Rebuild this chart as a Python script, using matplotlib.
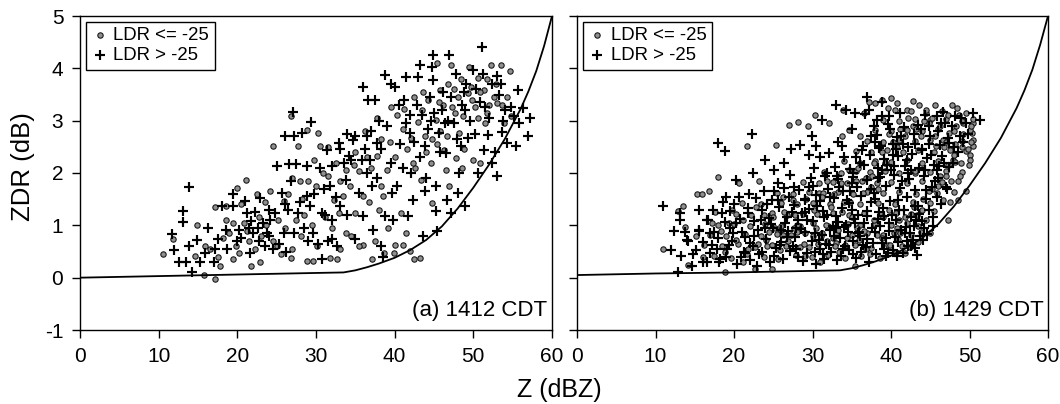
import matplotlib
matplotlib.use("Agg")
import matplotlib.pyplot as plt

plt.rcParams['font.family'] = ['Liberation Sans', 'DejaVu Sans']
plt.rcParams['axes.unicode_minus'] = False

# ---------------- data ----------------
x_ticks = [0, 10, 20, 30, 40, 50, 60]
y_ticks = [-1, 0, 1, 2, 3, 4, 5]
legend_labels = ["LDR <= -25", "LDR > -25"]
panel_titles = ["(a) 1412 CDT", "(b) 1429 CDT"]

curve_a_z = [0, 10, 20, 30, 33.5, 35, 36.5, 38, 40, 42, 44, 46, 48, 50, 52, 54, 56, 57, 58, 59, 60]
curve_a_zdr = [0.0, 0.03, 0.06, 0.09, 0.10, 0.14, 0.20, 0.27, 0.38, 0.53, 0.72, 0.98, 1.32, 1.72, 2.16, 2.65, 3.22, 3.56, 3.95, 4.43, 5.0]
curve_b_z = [0, 10, 20, 30, 33.5, 35, 36.5, 38, 40, 42, 44, 46, 48, 50, 52, 54, 56, 57, 58, 59, 60]
curve_b_zdr = [0.05, 0.08, 0.10, 0.13, 0.14, 0.18, 0.24, 0.31, 0.42, 0.57, 0.76, 1.02, 1.36, 1.76, 2.19, 2.67, 3.24, 3.58, 3.97, 4.45, 5.0]

a_plus = [(13.8,1.73),(13.1,1.28),(13.1,1.07),(11.7,0.84),(12.0,0.53),(12.6,0.29),(13.5,0.29),(13.8,0.60),(14.2,0.10),(14.9,0.72),(15.2,0.29),(15.9,0.48),(16.3,0.95),(17.0,0.29),(17.6,0.73),(18.1,1.37),(19.4,1.59),(19.4,1.37),(18.5,0.92),(18.7,0.54),(20.2,0.92),(21.0,1.46),(21.2,1.24),(21.8,1.08),(22.0,0.86),(21.6,0.48),(22.9,1.52),(23.3,1.05),(23.5,0.60),(24.2,1.11),(24.8,1.24),(25.1,2.14),(25.7,1.62),(25.9,0.86),(26.1,2.70),(26.6,2.17),(26.8,1.84),(27.1,3.17),(27.2,2.70),(27.5,2.17),(27.7,1.24),(27.2,0.86),(28.2,2.76),(28.8,1.56),(28.9,2.13),(29.4,2.98),(29.2,1.37),(29.6,0.86),(30.7,0.35),(30.7,1.24),(31.4,2.44),(31.8,1.75),(32.0,2.13),(32.0,0.73),(32.7,0.60),(32.9,2.57),(33.1,1.37),(33.8,1.87),(34.2,2.32),(34.7,2.63),(34.9,0.73),(35.5,1.62),(36.0,3.65),(36.0,1.17),(36.6,3.40),(36.9,2.25),(37.1,1.75),(37.3,0.92),(37.5,3.40),(37.7,2.57),(38.2,0.60),(38.8,1.17),(38.8,3.87),(39.5,3.71),(39.5,2.19),(39.7,1.62),(40.1,3.65),(40.3,1.75),(41.2,3.40),(41.4,3.84),(41.7,1.17),(41.9,2.76),(42.1,2.00),(42.3,1.49),(43.0,3.84),(43.2,4.06),(43.6,0.79),(43.8,1.65),(43.9,2.51),(44.5,3.46),(44.7,4.03),(44.9,4.25),(44.9,3.78),(45.2,1.75),(45.2,1.27),(45.4,0.89),(45.6,2.76),(46.0,3.21),(46.5,2.38),(46.7,1.49),(46.9,4.25),(47.1,1.24),(47.8,3.90),(48.0,1.62),(48.2,2.00),(48.4,2.51),(48.9,1.37),(49.1,3.71),(49.3,2.67),(50.0,3.97),(50.6,2.00),(51.1,4.41),(51.3,2.44),(51.5,3.27),(51.9,2.73),(52.4,2.19),(52.8,2.41),(53.0,1.94),(53.5,3.71),(53.7,2.79),(54.3,2.57),(54.8,3.27),(55.2,3.08),(55.4,2.51),(55.7,3.59),(55.8,2.95),(56.3,3.24),(57.0,2.70),(57.2,3.05),
(20.5,0.75),(21.5,0.95),(22.3,1.25),(22.8,0.70),(23.8,0.85),(24.5,0.55),(25.3,0.65),(26.2,0.50),(26.5,1.30),(28.0,1.45),(28.5,0.95),(29.0,0.70),(30.2,0.65),(31.0,1.70),(31.5,0.70),(32.5,1.55),(33.5,2.20),(34.0,1.20),(35.0,2.70),(35.8,2.25),(36.5,2.00),(37.8,1.90),(38.5,0.40),(39.0,2.90),(39.8,1.10),(40.5,3.30),(41.0,2.10),(42.5,2.60),(43.5,3.10),(44.0,1.90),(46.2,3.55),(47.5,2.95),(48.6,3.30),(50.3,3.60),(52.0,3.05),(53.2,3.50),(54.0,3.20),
(41.5,2.95),(42.8,3.30),(44.2,2.85),(45.0,3.15),(46.4,2.95),(47.2,3.45),(48.8,3.55),(49.6,3.00),(50.8,3.35),(52.4,3.70),(53.8,3.00),(38.3,2.45),(37.0,2.80),(36.2,2.45),(34.5,2.25),(33.0,2.45),(30.5,2.10),(31.2,1.20),(24.0,0.80),(22.6,0.95),(19.9,0.70),(17.2,0.55),
(40.7,2.55),(42.0,3.10),(43.2,2.30),(44.6,3.00),(45.8,2.40),(46.8,3.00),(47.9,2.65),(49.0,3.20),(50.2,2.75),(51.2,3.90),(53.0,3.85),(38.0,3.00),(36.5,2.70),(34.0,2.75),(32.0,1.10),(29.8,1.60),(26.0,1.40),(24.0,1.30)]

a_circ = [(10.6,0.46),(11.8,0.74),(14.9,1.00),(14.6,0.41),(15.8,0.06),(17.1,-0.02),(17.2,1.35),(15.9,0.60),(17.8,0.22),(18.5,1.37),(18.5,1.11),(20.0,1.71),(21.1,1.87),(20.2,0.48),(19.4,0.35),(21.8,0.22),(22.9,0.29),(24.2,1.65),(24.5,2.51),(25.1,0.60),(25.9,1.46),(26.8,0.38),(26.8,3.08),(27.7,2.51),(28.1,0.79),(28.8,2.83),(28.9,0.32),(29.6,0.32),(30.3,2.76),(30.1,0.60),(30.5,2.51),(31.8,0.38),(32.7,0.35),(30.9,2.00),(32.3,1.49),(32.9,1.24),(33.8,0.86),(35.0,1.24),(35.5,2.03),(36.0,0.63),(37.1,0.35),(37.7,2.32),(38.2,1.75),(38.6,0.48),(39.5,3.27),(39.9,0.48),(40.8,1.24),(41.0,0.63),(41.4,0.86),(41.9,0.51),(42.5,0.35),(43.2,0.38),(43.4,1.87),(43.8,2.70),(44.3,3.40),(44.7,1.43),(45.2,3.02),(45.4,4.10),(45.8,3.59),(46.3,2.44),(46.5,2.06),(46.9,1.75),(47.1,4.06),(47.3,3.27),(47.8,2.29),(48.2,2.76),(48.7,3.08),(49.3,3.52),(49.5,4.03),(50.0,2.25),(50.2,3.27),(50.6,3.81),(51.3,3.59),(51.7,3.14),(52.2,4.06),(52.6,3.46),(53.0,3.33),(53.5,4.06),(53.9,2.95),(54.6,3.94),(54.3,3.46),(54.8,3.08),
(33.4,1.57),(34.3,1.75),(36.0,1.57),(37.7,3.05),(38.5,1.57),(39.4,2.60),(40.3,3.10),(41.2,3.22),(42.1,2.67),(42.6,2.10),(43.0,2.98),(44.0,2.40),(45.8,2.80),(46.8,3.70),(48.0,3.45),(48.5,2.10),(50.8,2.20),(51.5,2.95),(19.0,0.85),(19.8,0.60),(20.8,1.05),(21.5,0.70),(22.2,0.55),(23.0,0.80),(23.7,1.00),(24.5,0.70),(25.5,0.45),(26.0,0.95),(27.0,0.55),(27.5,1.10),(28.5,1.20),(29.5,1.00),(30.0,1.75),(31.2,1.15),(32.0,0.95),(33.0,0.55),(34.5,0.80),(35.5,0.60),(36.8,1.45),(37.5,0.70),(38.0,1.30),(39.2,0.95),(40.0,0.62),(16.5,0.55),(17.5,0.40),(18.2,0.75),(20.5,1.40),(22.5,1.60),(23.5,1.45),(26.5,1.60),(28.0,1.85),
(41.6,2.45),(42.4,3.45),(43.6,3.55),(44.6,2.20),(45.4,2.55),(46.2,3.30),(47.6,3.60),(48.4,3.80),(49.8,3.40),(50.6,3.05),(51.8,3.80),(52.9,3.70),(53.6,3.30),(37.0,2.10),(36.2,2.80),(35.0,2.40),(33.8,2.05),(32.5,2.20),(31.5,2.50),(29.8,2.25),(27.0,1.90),(25.2,1.10),(22.8,1.15),(21.2,0.90),(19.4,1.05),
(40.0,2.30),(41.0,2.85),(42.3,2.20),(43.5,3.20),(44.8,2.65),(45.6,3.35),(46.6,2.70),(47.7,3.15),(48.8,2.45),(49.7,3.65),(50.9,3.55),(52.0,3.30),(39.0,2.05),(38.2,2.65),(36.5,2.30),(34.8,2.15),(33.0,1.85),(31.5,1.95),(29.0,1.85),(28.2,1.50)]

b_plus = [(11.0,1.36),(12.0,0.53),(12.3,0.89),(12.9,0.11),(13.1,1.11),(13.1,1.24),(13.3,0.41),(14.2,0.70),(14.6,0.22),(15.5,0.92),(15.5,1.30),(16.1,0.29),(16.6,1.11),(17.2,0.63),(17.9,2.58),(18.1,0.29),(18.5,1.24),(18.9,2.42),(19.0,1.55),(19.9,0.86),(20.2,1.87),(20.7,1.55),(21.4,0.48),(21.8,1.24),(22.3,2.74),(22.4,2.00),(22.9,0.22),(23.4,1.11),(23.8,1.65),(24.0,2.25),(25.1,1.65),(25.1,2.06),(25.6,1.49),(26.0,0.92),(26.4,2.19),(27.1,1.97),(27.7,1.74),(27.9,0.54),(28.4,2.54),(28.6,1.24),(29.1,1.49),(29.5,1.74),(29.9,2.70),(30.2,2.09),(30.4,2.51),(30.6,1.36),(31.2,3.01),(31.5,0.35),(31.9,2.00),(32.1,2.38),(32.6,0.98),(33.0,3.30),(33.4,1.74),(33.7,2.51),(34.1,0.60),(34.3,3.20),(34.7,1.43),(35.2,2.00),(35.4,3.14),(35.8,0.86),(36.3,2.44),(36.9,3.46),(37.2,3.20),(37.4,2.70),(37.8,1.62),(38.2,3.01),(38.7,2.51),(38.9,3.36),(39.1,1.17),(39.6,0.48),(39.8,3.08),(40.4,2.13),(40.9,1.49),(41.3,2.70),(41.8,0.86),(42.2,2.00),(42.6,0.60),(43.1,1.36),(43.3,0.44),(43.7,0.79),(43.9,2.44),(44.4,1.68),(44.8,2.89),(45.3,0.98),(45.9,3.08),(46.1,2.13),(46.6,3.17),(47.0,1.74),(47.4,2.57),(48.1,3.08),(48.8,2.70),(50.5,3.14),(51.4,3.01),(49.6,2.95),
(16.5,0.30),(18.2,0.35),(20.4,0.27),(22.1,0.33),(24.6,0.29),(26.3,0.36),(28.8,0.31),(30.5,0.26),(33.1,0.34),(35.6,0.38),(37.2,0.30),(39.4,0.42),(41.5,0.47),(43.0,0.57),
(15.2,0.52),(17.0,0.48),(19.1,0.55),(21.3,0.50),(23.2,0.46),(25.4,0.57),(27.1,0.51),(29.3,0.47),(31.0,0.55),(32.4,0.49),(34.6,0.53),(36.8,0.58),(38.1,0.45),(40.2,0.52),(42.2,0.60),(44.1,0.72),
(14.0,0.72),(16.0,0.68),(18.0,0.75),(19.8,0.70),(22.0,0.66),(24.1,0.74),(26.0,0.69),(27.8,0.77),(29.9,0.71),(31.7,0.65),(33.5,0.76),(35.1,0.70),(36.9,0.73),(38.8,0.67),(40.5,0.78),(42.8,0.72),(44.6,0.84),
(15.6,0.90),(17.5,0.88),(19.5,0.94),(21.0,0.87),(23.0,0.92),(25.0,0.95),(26.9,0.89),(28.5,0.93),(30.3,0.86),(32.2,0.91),(34.0,0.96),(35.9,0.88),(37.6,0.94),(39.8,0.90),(41.9,0.97),
(16.7,1.10),(18.8,1.06),(20.8,1.12),(22.5,1.08),(24.4,1.14),(26.5,1.05),(28.1,1.11),(30.0,1.09),(31.5,1.15),(33.2,1.07),(35.3,1.12),(36.5,1.04),(38.4,1.13),(40.6,1.10),(42.5,1.16),(44.0,1.08),
(17.3,1.30),(19.5,1.27),(21.8,1.33),(23.6,1.29),(25.7,1.35),(27.4,1.26),(29.6,1.31),(31.3,1.28),(33.8,1.34),(35.0,1.30),(37.0,1.27),(39.0,1.33),(41.0,1.29),(43.4,1.36),
(22.8,1.52),(24.9,1.48),(27.0,1.55),(29.0,1.50),(30.9,1.46),(32.7,1.53),(34.4,1.49),(36.2,1.56),(38.0,1.51),(39.9,1.47),(42.0,1.54),(44.5,1.50),
(26.4,1.72),(28.3,1.68),(30.1,1.75),(32.0,1.70),(33.9,1.66),(35.7,1.73),(37.5,1.69),(39.3,1.76),(41.2,1.71),(43.0,1.67),(45.2,1.74),(47.1,1.70),
(29.8,1.90),(31.6,1.95),(33.3,1.88),(35.1,1.93),(36.9,1.86),(38.6,1.92),(40.4,1.97),(42.3,1.89),(44.2,1.94),(46.0,1.91),
(32.9,2.12),(34.8,2.08),(36.6,2.15),(38.3,2.10),(40.0,2.06),(41.8,2.13),(43.6,2.09),(45.5,2.16),(47.4,2.11),
(35.5,2.30),(37.3,2.34),(39.1,2.27),(40.9,2.32),(42.7,2.36),(44.6,2.29),(46.5,2.33),
(36.4,2.52),(38.5,2.48),(40.3,2.55),(42.2,2.50),(44.0,2.46),(46.2,2.53),(48.0,2.49),
(38.2,2.72),(40.8,2.68),(42.9,2.75),(45.0,2.70),(47.2,2.66),
(37.8,2.90),(39.6,2.94),(41.6,2.87),(43.5,2.92),(46.4,2.96),
(36.7,3.12),(38.9,3.08),(41.1,3.15),(44.3,3.10),
(17.8,0.55),(19.3,0.62),(20.9,0.40),(22.6,0.80),(23.9,0.95),(25.1,0.42),(26.7,0.78),(27.5,0.60),(28.2,0.40),(29.0,0.88),(30.8,0.72),(31.4,0.45),(32.8,0.80),(33.9,0.55),(34.3,1.00),(35.2,0.45),(35.8,1.20),(36.4,0.62),(37.9,0.88),(38.5,1.25),(39.1,0.55),(39.7,1.05),(40.9,0.68),(41.6,1.30),(42.4,0.85),(43.2,1.10),(44.9,1.30),(45.8,1.55),(27.6,1.38),(29.3,1.10),(30.5,1.58),(31.9,1.20),(33.0,0.95),(34.8,1.65),(36.0,0.80),(37.4,1.45),(38.3,1.90),(39.5,2.15),(40.6,2.45),(41.4,1.85),(42.0,2.25),(43.1,2.55),(44.3,2.05),(45.1,2.35),(46.0,2.80),(46.8,2.20),(47.8,2.90),(48.5,2.40),(49.2,2.60),(35.0,2.85),(33.2,2.60),(31.0,2.30),(29.5,2.35),(27.2,2.45),(25.6,1.80),(24.2,1.40),(21.9,1.60),(20.0,1.40),(18.6,1.45),(16.9,0.85),(14.8,0.45),(13.8,0.88),
(30.3,0.50),(31.2,0.82),(32.1,0.62),(33.0,1.18),(33.6,0.42),(34.5,0.88),(35.4,1.05),(36.2,0.50),(36.9,1.18),(37.7,0.66),(38.6,0.98),(39.3,0.75),(40.1,1.20),(40.8,0.42),(41.3,0.92),(42.0,0.70),(42.9,0.98),(43.6,1.22),(44.2,0.95),(45.4,1.15),(29.0,1.25),(27.9,0.95),(26.8,1.15),(25.8,0.62),(24.7,1.02),(23.6,0.50),(22.4,0.60),(21.4,0.78),(20.2,1.05),(19.0,0.40),(38.9,2.05),(40.2,2.35),(41.5,2.55),(42.6,2.05),(43.8,2.85),(44.9,2.55),(45.8,2.05),(46.9,2.95),(47.9,2.20),(48.9,3.05),(49.8,2.75),(39.9,2.85),(37.9,2.60),(36.1,2.20),(35.0,1.80),(34.0,2.30),(33.1,1.95),(32.2,1.55),(45.6,1.85),(46.4,1.40)]

b_circ = [(11.0,0.55),(12.9,1.27),(13.5,1.36),(13.7,0.96),(14.2,0.25),(15.3,1.59),(15.9,1.59),(16.8,1.65),(17.9,1.92),(17.6,1.25),(18.8,0.11),(19.4,1.05),(20.6,1.81),(21.2,0.29),(21.6,2.51),(22.7,0.16),(23.2,1.84),(24.2,0.60),(24.9,0.16),(25.4,2.53),(25.8,0.86),(26.2,1.55),(27.0,2.92),(27.5,1.49),(28.2,2.98),(28.4,0.98),(29.1,0.41),(29.4,2.89),(30.3,3.10),(30.8,1.62),(31.2,0.86),(32.1,2.95),(33.0,0.67),(33.7,2.70),(33.9,3.20),(34.7,2.82),(35.4,0.22),(36.1,2.70),(36.5,3.14),(37.4,1.74),(38.0,3.33),(38.9,3.39),(40.0,3.44),(40.8,3.34),(40.9,0.73),(42.0,3.20),(42.8,3.38),(43.1,2.00),(43.5,0.98),(44.4,3.14),(45.0,0.86),(45.7,2.51),(46.6,1.49),(47.2,1.11),(47.9,2.25),(48.5,1.49),(48.9,2.19),(49.6,1.65),(50.1,2.35),(50.3,2.76),(50.5,2.51),(50.4,2.95),(49.2,2.95),(48.3,2.89),(47.4,2.76),(46.6,2.63),
(17.5,0.42),(19.6,0.38),(21.6,0.45),(23.8,0.40),(25.6,0.36),(27.9,0.43),(29.9,0.39),(32.0,0.44),(34.1,0.37),(36.2,0.41),(38.6,0.38),(40.7,0.50),(42.4,0.58),
(16.2,0.62),(18.5,0.60),(20.5,0.64),(22.7,0.58),(24.9,0.63),(26.6,0.61),(28.4,0.59),(30.7,0.64),(32.9,0.60),(35.4,0.62),(37.5,0.57),(39.6,0.63),(41.4,0.60),(43.5,0.68),
(17.0,0.82),(19.0,0.80),(21.4,0.84),(23.5,0.79),(25.5,0.83),(27.3,0.81),(29.1,0.85),(31.1,0.80),(33.0,0.84),(35.0,0.81),(37.0,0.86),(39.0,0.82),(41.2,0.85),(43.8,0.88),
(18.0,1.00),(20.0,1.02),(22.0,0.98),(24.0,1.03),(26.0,0.99),(28.0,1.01),(30.0,1.04),(32.0,0.98),(34.5,1.02),(36.0,1.00),(38.0,1.03),(40.0,1.01),(42.0,1.05),(44.5,1.10),
(20.2,1.22),(22.2,1.20),(24.8,1.23),(26.8,1.19),(28.8,1.22),(30.6,1.21),(32.6,1.24),(34.6,1.20),(36.6,1.23),(38.6,1.21),(40.6,1.24),(42.6,1.22),(45.5,1.28),
(21.0,1.42),(23.5,1.40),(26.0,1.43),(28.0,1.40),(30.0,1.42),(32.2,1.41),(34.0,1.44),(36.0,1.40),(38.4,1.43),(40.5,1.41),(42.8,1.44),(45.0,1.42),(47.5,1.45),
(25.5,1.62),(27.5,1.60),(29.5,1.63),(31.3,1.61),(33.2,1.64),(35.2,1.60),(37.0,1.63),(39.0,1.61),(41.0,1.64),(43.2,1.60),(45.8,1.62),(48.0,1.63),
(28.8,1.82),(30.8,1.80),(32.6,1.83),(34.4,1.81),(36.3,1.84),(38.2,1.80),(40.0,1.83),(42.0,1.81),(44.0,1.84),(46.5,1.82),(48.5,1.85),
(31.5,2.02),(33.6,2.00),(35.5,2.03),(37.3,2.01),(39.2,2.04),(41.0,2.00),(43.0,2.03),(45.0,2.01),(47.0,2.04),(49.0,2.02),
(34.0,2.22),(36.0,2.20),(38.0,2.23),(40.0,2.21),(42.0,2.24),(44.0,2.20),(46.0,2.23),(48.2,2.21),(50.0,2.25),
(35.5,2.42),(37.5,2.40),(39.5,2.43),(41.5,2.41),(43.5,2.44),(45.5,2.40),(47.5,2.43),(49.5,2.42),
(37.0,2.62),(39.0,2.60),(41.0,2.63),(43.0,2.61),(45.0,2.64),(47.0,2.60),(49.0,2.62),(50.4,2.64),
(38.0,2.82),(40.0,2.80),(42.0,2.83),(44.0,2.81),(46.0,2.84),(48.0,2.80),(50.0,2.82),
(39.0,3.02),(41.0,3.00),(43.0,3.03),(45.0,3.01),(47.0,3.04),(49.0,3.00),(50.5,3.03),
(40.5,3.20),(42.5,3.18),(44.5,3.21),(46.5,3.19),
(18.8,0.50),(20.3,0.72),(21.8,0.55),(23.1,0.65),(24.5,0.88),(25.9,0.52),(26.9,0.70),(28.0,0.88),(29.6,0.58),(30.4,0.95),(31.8,0.70),(33.4,0.50),(34.4,0.75),(35.7,0.95),(36.8,0.55),(37.8,1.10),(38.8,0.75),(39.8,1.30),(40.8,0.95),(41.8,1.15),(42.9,1.35),(44.1,1.50),(45.2,1.70),(46.2,1.95),(47.2,2.15),(48.2,2.55),(49.2,2.75),(50.2,2.90),(49.8,2.45),(48.8,1.95),(47.6,1.85),(46.8,2.50),(45.6,2.70),(44.8,2.95),(43.8,2.70),(42.8,2.90),(41.8,2.70),(40.8,2.50),(39.8,2.75),(38.8,2.40),(37.8,2.20),(36.8,1.90),(35.8,2.10),(34.8,1.45),(33.8,1.25),(32.8,1.60),(31.8,1.85),(30.2,1.30),(29.2,1.50),(27.8,1.20),(26.4,1.25),(25.0,1.15),(23.8,1.20),(22.8,1.35),(21.2,1.10),(19.8,1.30),(18.4,0.90),(17.2,1.05),(16.0,0.40),(15.1,0.80),(43.6,3.30),(45.6,3.30),(47.8,3.30),(48.6,3.10),(39.6,3.25),(37.2,3.35),
(30.9,0.30),(31.7,1.00),(32.6,0.75),(33.3,0.92),(34.2,0.62),(35.0,1.15),(35.9,0.72),(36.6,0.90),(37.3,0.45),(38.2,0.82),(39.0,1.15),(39.9,0.62),(40.4,0.85),(41.0,1.10),(41.8,0.48),(42.6,0.82),(43.3,1.20),(44.0,1.30),(44.8,1.65),(46.0,1.75),(47.0,1.95),(48.0,2.35),(49.0,2.50),(49.9,2.15),(50.2,2.60),(49.6,3.15),(48.4,3.25),(47.3,3.10),(46.2,2.90),(45.2,3.05),(44.2,3.00),(43.2,2.85),(42.2,3.05),(41.2,2.85),(40.2,2.60),(39.2,2.20),(38.4,1.70),(37.6,1.95),(36.4,1.62),(35.6,1.85),(34.7,2.05),(33.6,1.80),(32.4,1.35),(31.2,1.55),(30.0,0.80),(28.9,0.65),(27.6,0.95),(26.2,0.82),(25.2,0.95),(24.1,0.72)]

panels = [
    (a_circ, a_plus, curve_a_z, curve_a_zdr, panel_titles[0]),
    (b_circ, b_plus, curve_b_z, curve_b_zdr, panel_titles[1]),
]

# ---------------- figure ----------------
fig = plt.figure(figsize=(10.6, 4.04), dpi=100)
W, H = 1060, 404
ax_rects = [
    [80 / W, (H - 330) / H, 472 / W, 314 / H],
    [577 / W, (H - 330) / H, 471 / W, 314 / H],
]

for i, (circ, plus, cz, czdr, title) in enumerate(panels):
    ax = fig.add_axes(ax_rects[i])
    cx, cy = zip(*circ)
    px, py = zip(*plus)
    ax.scatter(cx, cy, s=15, marker='o', facecolor='#8f8f8f',
               edgecolor='#111111', linewidths=0.75, zorder=3,
               label=legend_labels[0])
    ax.scatter(px, py, s=62, marker='+', color='black',
               linewidths=1.55, zorder=3, label=legend_labels[1])
    ax.plot(cz, czdr, color='black', lw=1.3, zorder=4)
    ax.set_xlim(0, 60)
    ax.set_ylim(-1, 5)
    ax.set_xticks(x_ticks)
    ax.set_yticks(y_ticks)
    ax.tick_params(direction='out', length=6, width=1, labelsize=15,
                   colors='black')
    ax.tick_params(axis='x', pad=6)
    ax.tick_params(axis='y', pad=6)
    if i == 1:
        ax.tick_params(axis='y', labelleft=False)
    for sp in ax.spines.values():
        sp.set_linewidth(1.0)
        sp.set_color('black')
    leg = ax.legend(loc='upper left', fontsize=13.4, frameon=True,
                    fancybox=False, edgecolor='black', framealpha=1,
                    handletextpad=0.2, borderpad=0.3, labelspacing=0.15,
                    handlelength=1.0, borderaxespad=0.3, scatterpoints=1)
    leg.get_frame().set_linewidth(1.0)
    ax.text(0.99, 0.03, title, transform=ax.transAxes, ha='right',
            va='bottom', fontsize=16)

fig.text(23 / W, (H - 167) / H, "ZDR (dB)", rotation=90, ha='center',
         va='center', fontsize=18.5)
fig.text(559 / W, (H - 390) / H, "Z (dBZ)", ha='center', va='center',
         fontsize=18)

fig.savefig("out.png", dpi=100)
